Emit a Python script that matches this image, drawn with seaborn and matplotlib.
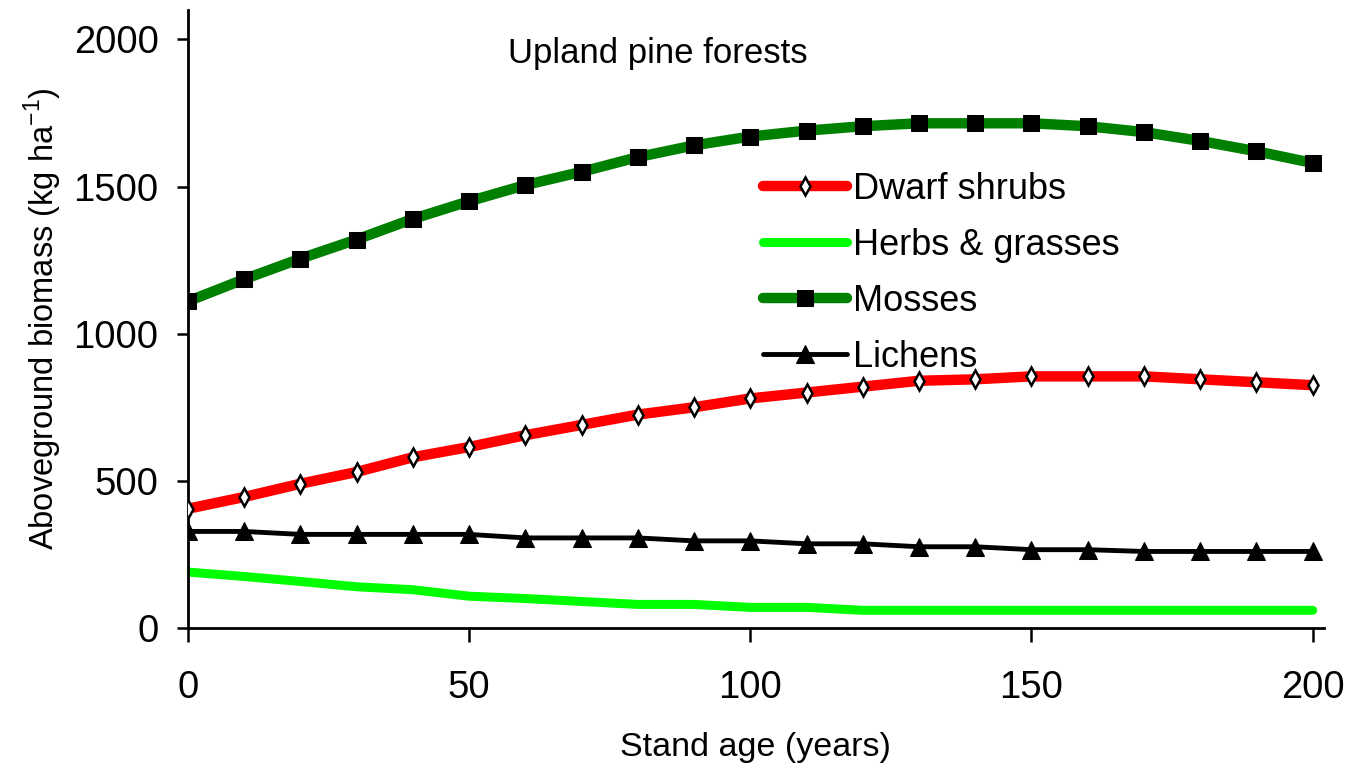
import numpy as np
import pandas as pd
import matplotlib
matplotlib.use("Agg")
import matplotlib.pyplot as plt
import seaborn as sns

age = [0, 10, 20, 30, 40, 50, 60, 70, 80, 90, 100, 110, 120, 130, 140, 150, 160, 170, 180, 190, 200]
dwarf_shrubs = [405, 445, 490, 530, 580, 615, 655, 690, 725, 750, 780, 800, 820, 840, 845, 855, 855, 855, 845, 835, 825]
herbs_grasses = [190, 175, 158, 140, 130, 108, 100, 90, 80, 80, 70, 70, 60, 60, 60, 60, 60, 60, 60, 60, 60]
mosses = [1110, 1185, 1255, 1320, 1390, 1450, 1505, 1550, 1600, 1640, 1670, 1690, 1705, 1715, 1715, 1715, 1705, 1685, 1655, 1620, 1580]
lichens = [328, 328, 318, 318, 318, 318, 306, 306, 306, 296, 296, 286, 286, 276, 276, 266, 266, 260, 260, 260, 260]

labels = ["Dwarf shrubs", "Herbs & grasses", "Mosses", "Lichens"]
x_ticks = [0, 50, 100, 150, 200]
y_ticks = [0, 500, 1000, 1500, 2000]

sns.set_style("ticks")
plt.rcParams['font.family'] = ['Liberation Sans', 'DejaVu Sans']
plt.rcParams['mathtext.fontset'] = 'custom'
plt.rcParams['mathtext.rm'] = 'Liberation Sans'
for k in ['text.color', 'axes.labelcolor', 'xtick.color', 'ytick.color', 'axes.edgecolor']:
    plt.rcParams[k] = 'black'

fig = plt.figure(figsize=(13.51, 7.69), dpi=100)
ax = fig.add_axes([0.139, 0.1834, 0.841, 0.8036])

df = pd.DataFrame({"age": age, "Dwarf shrubs": dwarf_shrubs, "Herbs & grasses": herbs_grasses,
                   "Mosses": mosses, "Lichens": lichens})

sns.lineplot(data=df, x="age", y="Dwarf shrubs", ax=ax, color="#FF0000", linewidth=7.5,
             marker="d", markersize=9, markerfacecolor="white", markeredgecolor="black",
             markeredgewidth=1.8, label=labels[0], zorder=3)
sns.lineplot(data=df, x="age", y="Herbs & grasses", ax=ax, color="#00FF00", linewidth=6.5,
             label=labels[1], zorder=2)
sns.lineplot(data=df, x="age", y="Mosses", ax=ax, color="#008000", linewidth=7.5,
             marker="s", markersize=11, markerfacecolor="black", markeredgecolor="black",
             label=labels[2], zorder=3)
sns.lineplot(data=df, x="age", y="Lichens", ax=ax, color="black", linewidth=3.5,
             marker="^", markersize=13, markerfacecolor="black", markeredgecolor="black",
             label=labels[3], zorder=3)

ax.set_xlim(0, 202)
ax.set_ylim(0, 2100)
ax.set_xticks(x_ticks)
ax.set_yticks(y_ticks)
ax.tick_params(axis='both', labelsize=27.5, width=1.8, length=8, color='black',
               labelcolor='black', direction='out')
ax.tick_params(axis='x', pad=20, length=10)
ax.tick_params(axis='y', pad=13)
for s in ["left", "bottom"]:
    ax.spines[s].set_linewidth(2)
    ax.spines[s].set_color("black")
sns.despine(ax=ax)

ax.set_xlabel("Stand age (years)", fontsize=24.5, labelpad=19)
ax.set_ylabel(r"Aboveground biomass (kg ha$^{-1}$)", fontsize=23.5, labelpad=7)

ax.text(0.2817, 0.914, "Upland pine forests", transform=ax.transAxes, fontsize=25,
        ha="left", va="baseline")

leg = ax.legend(loc="upper left", bbox_to_anchor=(0.506, 0.738), frameon=False, fontsize=26,
                handlelength=2.33, handletextpad=0.17, labelspacing=0.58, borderaxespad=0,
                borderpad=0)

fig.savefig("out.png", dpi=100)
